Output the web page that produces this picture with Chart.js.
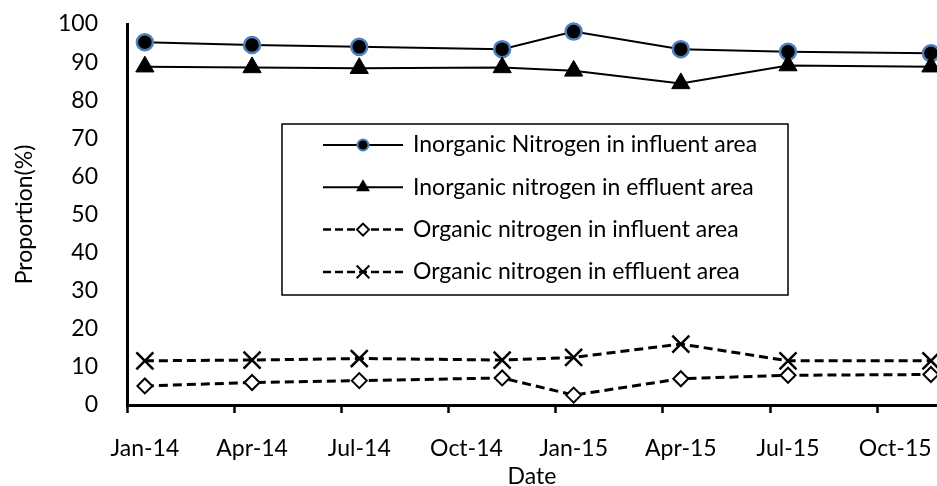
<!DOCTYPE html>
<html>
<head>
<meta charset="utf-8">
<script src="https://cdn.jsdelivr.net/npm/chart.js@4.4.1/dist/chart.umd.min.js"></script>
<style>
    html, body { margin: 0; padding: 0; background: #fff; overflow: hidden; }
    #wrap { width: 937px; height: 486px; position: relative; }
</style>
</head>
<body>
<div id="wrap"><canvas id="myChart"></canvas></div>
<script>
const monthNames = ['Jan-14', 'Feb-14', 'Mar-14', 'Apr-14', 'May-14', 'Jun-14', 'Jul-14', 'Aug-14', 'Sep-14', 'Oct-14', 'Nov-14', 'Dec-14',
    'Jan-15', 'Feb-15', 'Mar-15', 'Apr-15', 'May-15', 'Jun-15', 'Jul-15', 'Aug-15', 'Sep-15', 'Oct-15', 'Nov-15', 'Dec-15'];
const sampleDates = ['Jan-14', 'Apr-14', 'Jul-14', 'Nov-14', 'Jan-15', 'Apr-15', 'Jul-15', 'Nov-15'];
const tickLabels = ['Jan-14', 'Apr-14', 'Jul-14', 'Oct-14', 'Jan-15', 'Apr-15', 'Jul-15', 'Oct-15'];
const yTicks = [0, 10, 20, 30, 40, 50, 60, 70, 80, 90, 100];

const seriesNames = ['Inorganic Nitrogen in influent area', 'Inorganic nitrogen in effluent area',
    'Organic nitrogen in influent area', 'Organic nitrogen in effluent area'];
const inorganicInfluent = [95.2, 94.5, 94.0, 93.4, 98.0, 93.4, 92.7, 92.3];
const inorganicEffluent = [88.8, 88.6, 88.4, 88.6, 87.7, 84.4, 89.1, 88.8];
const organicInfluent = [5.0, 5.9, 6.4, 7.1, 2.6, 6.9, 7.8, 8.0];
const organicEffluent = [11.6, 11.8, 12.2, 11.8, 12.5, 16.0, 11.6, 11.6];

const FONT = 'Lato';
const FS = 23;

function toPoints(values) {
    return values.map((v, i) => ({x: monthNames.indexOf(sampleDates[i]), y: v}));
}

// little marker painter for the legend box
function drawMarker(ctx, style, x, y, r) {
    ctx.save();
    ctx.setLineDash([]);
    ctx.beginPath();
    if (style === 'circle') {
        ctx.arc(x, y, r, 0, Math.PI * 2);
        ctx.fillStyle = '#000';
        ctx.fill();
        ctx.lineWidth = 2;
        ctx.strokeStyle = '#4f81bd';
        ctx.stroke();
    } else if (style === 'triangle') {
        ctx.moveTo(x, y - r);
        ctx.lineTo(x + 0.866 * r, y + 0.5 * r);
        ctx.lineTo(x - 0.866 * r, y + 0.5 * r);
        ctx.closePath();
        ctx.fillStyle = '#000';
        ctx.fill();
    } else if (style === 'rectRot') {
        ctx.moveTo(x, y - r);
        ctx.lineTo(x + r, y);
        ctx.lineTo(x, y + r);
        ctx.lineTo(x - r, y);
        ctx.closePath();
        ctx.fillStyle = '#fff';
        ctx.fill();
        ctx.lineWidth = 2;
        ctx.strokeStyle = '#000';
        ctx.stroke();
    } else {
        let d = r * 0.707;
        ctx.moveTo(x - d, y - d);
        ctx.lineTo(x + d, y + d);
        ctx.moveTo(x + d, y - d);
        ctx.lineTo(x - d, y + d);
        ctx.lineWidth = 2;
        ctx.strokeStyle = '#000';
        ctx.stroke();
    }
    ctx.restore();
}

const legendBox = {
    id: 'legendBox',
    afterDraw(chart) {
        const ctx = chart.ctx;
        const styles = ['circle', 'triangle', 'rectRot', 'crossRot'];
        const sizes = [5.5, 8, 6, 9];
        ctx.save();
        ctx.lineWidth = 1.5;
        ctx.strokeStyle = '#000';
        ctx.setLineDash([]);
        ctx.fillStyle = '#fff';
        ctx.fillRect(282, 124, 506, 171);
        ctx.strokeRect(282, 124, 506, 171);
        for (let i = 0; i < seriesNames.length; i++) {
            let y = 145 + i * 42.3;
            ctx.beginPath();
            ctx.strokeStyle = '#000';
            if (i < 2) {
                ctx.lineWidth = 2;
                ctx.setLineDash([]);
            } else {
                ctx.lineWidth = 2.5;
                ctx.setLineDash([8, 4]);
            }
            ctx.moveTo(323, y);
            ctx.lineTo(403, y);
            ctx.stroke();
            drawMarker(ctx, styles[i], 363, y, sizes[i]);
            ctx.setLineDash([]);
            ctx.fillStyle = '#000';
            ctx.font = FS + 'px ' + FONT;
            ctx.textAlign = 'left';
            ctx.textBaseline = 'middle';
            ctx.fillText(seriesNames[i], 413, y);
        }
        ctx.restore();
    }
};

const ctx = document.getElementById('myChart').getContext('2d');

const myChart = new Chart(ctx, {
    type: 'line',
    data: {
        datasets: [{
            label: seriesNames[0],
            data: toPoints(inorganicInfluent),
            borderColor: '#000',
            borderWidth: 2,
            pointStyle: 'circle',
            pointRadius: 8,
            pointBackgroundColor: '#000',
            pointBorderColor: '#4f81bd',
            pointBorderWidth: 2.5,
            order: 4
        }, {
            label: seriesNames[1],
            data: toPoints(inorganicEffluent),
            borderColor: '#000',
            borderWidth: 2,
            pointStyle: 'triangle',
            pointRadius: 10.5,
            pointBackgroundColor: '#000',
            pointBorderColor: '#000',
            pointBorderWidth: 1,
            order: 3
        }, {
            label: seriesNames[2],
            data: toPoints(organicInfluent),
            borderColor: '#000',
            borderWidth: 3,
            borderDash: [9, 5],
            pointStyle: 'rectRot',
            pointRadius: 7.5,
            pointBackgroundColor: '#fff',
            pointBorderColor: '#000',
            pointBorderWidth: 2,
            order: 2
        }, {
            label: seriesNames[3],
            data: toPoints(organicEffluent),
            borderColor: '#000',
            borderWidth: 3,
            borderDash: [9, 5],
            pointStyle: 'crossRot',
            pointRadius: 12,
            pointBackgroundColor: '#000',
            pointBorderColor: '#000',
            pointBorderWidth: 2.5,
            order: 1
        }]
    },
    options: {
        responsive: true,
        maintainAspectRatio: false,
        animation: false,
        clip: false,
        layout: {
            autoPadding: false,
            padding: {top: 24, right: 0, left: 0, bottom: 0}
        },
        plugins: {
            legend: {display: false},
            tooltip: {enabled: false}
        },
        elements: {
            line: {tension: 0}
        },
        scales: {
            x: {
                type: 'linear',
                min: -0.5,
                max: 22.17,
                afterFit: (scale) => {
                    scale.height = 81;
                    scale.paddingLeft = 0;
                    scale.paddingRight = 0;
                },
                afterBuildTicks: (scale) => {
                    scale.ticks = tickLabels.map(l => ({value: monthNames.indexOf(l) - 0.5}));
                },
                grid: {
                    drawOnChartArea: false,
                    drawTicks: true,
                    tickLength: 8,
                    tickWidth: 2.5,
                    tickColor: '#000'
                },
                border: {color: '#000', width: 3},
                ticks: {
                    autoSkip: false,
                    maxRotation: 0,
                    labelOffset: 17.9,
                    padding: 22,
                    color: '#000',
                    font: {family: FONT, size: FS},
                    callback: (value) => monthNames[Math.round(value + 0.5)]
                },
                title: {
                    display: true,
                    text: 'Date',
                    color: '#000',
                    font: {family: FONT, size: FS},
                    padding: {top: 0, bottom: -4}
                }
            },
            y: {
                min: 0,
                max: 100,
                afterFit: (scale) => {
                    scale.width = 127;
                    scale.paddingTop = 0;
                    scale.paddingBottom = 0;
                },
                afterBuildTicks: (scale) => {
                    scale.ticks = yTicks.map(v => ({value: v}));
                },
                grid: {
                    drawOnChartArea: false,
                    drawTicks: false
                },
                border: {color: '#000', width: 3},
                ticks: {
                    padding: 29,
                    color: '#000',
                    font: {family: FONT, size: FS}
                },
                title: {
                    display: true,
                    text: 'Proportion(%)',
                    color: '#000',
                    font: {family: FONT, size: FS},
                    padding: {top: 11, bottom: 0}
                }
            }
        }
    },
    plugins: [legendBox]
});
</script>
</body>
</html>
